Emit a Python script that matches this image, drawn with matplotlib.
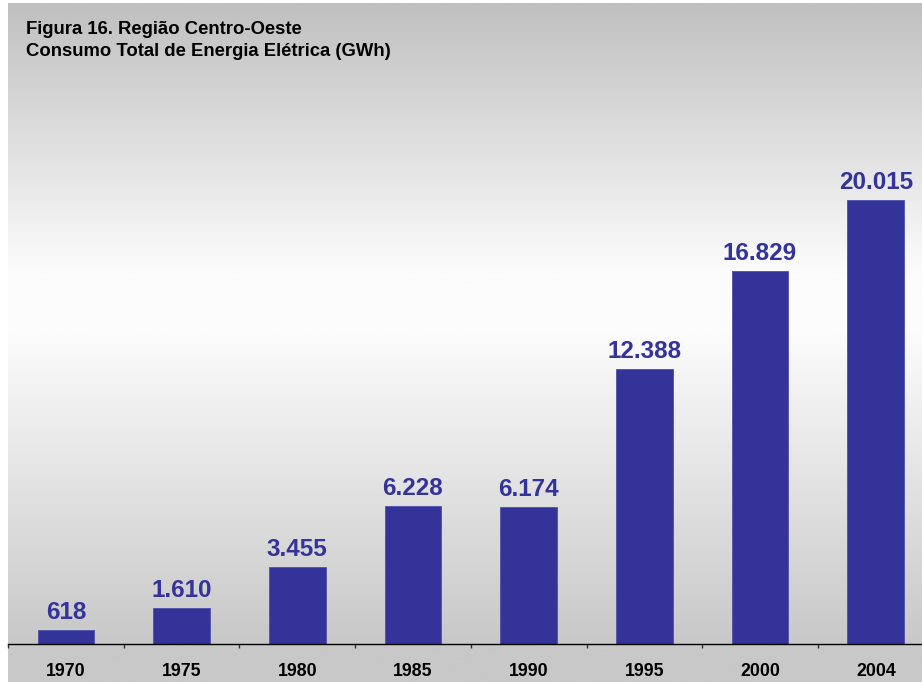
import numpy as np
import matplotlib.pyplot as plt
from matplotlib.colors import LinearSegmentedColormap

plt.rcParams['font.family'] = ['Liberation Sans', 'DejaVu Sans']

anos = ['1970', '1975', '1980', '1985', '1990', '1995', '2000', '2004']
consumo_gwh = [618, 1610, 3455, 6228, 6174, 12388, 16829, 20015]
rotulos = ['618', '1.610', '3.455', '6.228', '6.174', '12.388', '16.829', '20.015']

W, H = 922, 682
fig = plt.figure(figsize=(W / 100, H / 100), dpi=100)

# fundo em degradê: cinza no topo, branco no meio, cinza embaixo
bg = fig.add_axes([8 / W, 0, 1 - 8 / W, (H - 3) / H], zorder=0)
paradas = [(0.0, 200), (38 / 679, 200), (350 / 679, 252), (410 / 679, 252), (1.0, 192)]
cmap = LinearSegmentedColormap.from_list(
    'fundo', [(p, (v / 255, v / 255, v / 255)) for p, v in paradas])
grad = np.linspace(0, 1, 600).reshape(-1, 1)
bg.imshow(grad, aspect='auto', cmap=cmap, origin='lower', extent=[0, 1, 0, 1])
bg.set_axis_off()

px_left, px_right = 8, 933.6
ax = fig.add_axes([px_left / W, (H - 644) / H, (px_right - px_left) / W, (644 - 3) / H], zorder=1)
ax.set_facecolor('none')

x = np.arange(len(anos))
cor = '#333399'
ax.bar(x, consumo_gwh, width=0.49, color=cor, edgecolor='#5050a8', linewidth=0.6)

for xi, v, r in zip(x, consumo_gwh, rotulos):
    ax.annotate(r, (xi, v), xytext=(0, 8), textcoords='offset points',
                ha='center', va='baseline', fontsize=17.5, fontweight='bold', color=cor)

ax.set_xlim(-0.5, len(anos) - 0.5)
ax.set_ylim(0, 28900)

for s in ['top', 'right', 'left']:
    ax.spines[s].set_visible(False)
ax.spines['bottom'].set_color('black')
ax.spines['bottom'].set_linewidth(1.0)
ax.set_yticks([])

ax.set_xticks(x)
ax.set_xticklabels(anos, fontsize=12.8, fontweight='bold')
ax.tick_params(axis='x', which='major', length=0, pad=14)
ax.set_xticks(np.arange(-0.5, len(anos), 1.0), minor=True)
ax.tick_params(axis='x', which='minor', length=3, width=1, color='#333333', direction='out')

fig.text(26 / W, 1 - 34 / H, 'Figura 16. Região Centro-Oeste', fontsize=13.3,
         fontweight='bold', va='baseline', ha='left')
fig.text(26 / W, 1 - 56.5 / H, 'Consumo Total de Energia Elétrica (GWh)', fontsize=13.3,
         fontweight='bold', va='baseline', ha='left')

fig.savefig('out.png', dpi=100)
